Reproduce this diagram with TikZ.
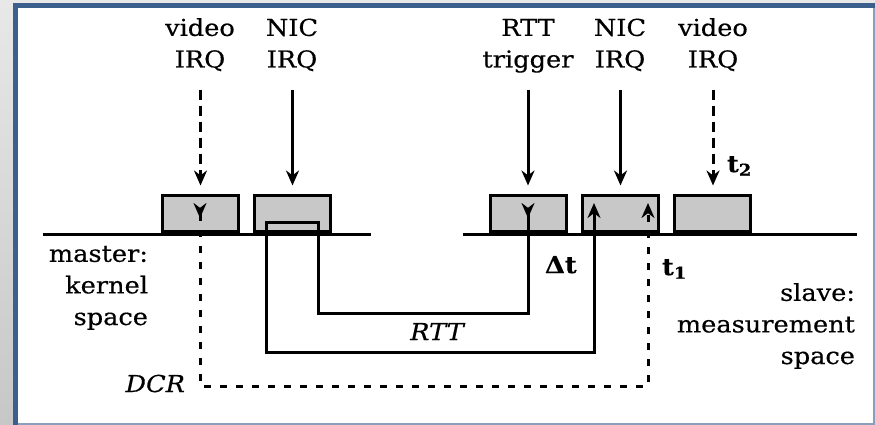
\documentclass[tikz,border=0pt]{standalone}
\usepackage{fontspec}
\setmainfont{DejaVu Serif}[FakeStretch=1.1, FakeBold=0.4]
\usetikzlibrary{arrows.meta}
\definecolor{frameblue}{HTML}{3C5F8E}
\definecolor{boxgray}{HTML}{C8C8C8}
\begin{document}
\begin{tikzpicture}[x=1pt,y=-1pt,
  every node/.style={inner sep=0pt, outer sep=0pt},
  lbl/.style={font=\fontsize{23.3}{31.6}\selectfont, align=center, anchor=base},
  side/.style={font=\fontsize{23.3}{31.6}\selectfont, align=right, anchor=base east},
  emph/.style={font=\fontsize{23.3}{28}\selectfont\itshape},
  strong/.style={font=\fontsize{23.3}{28}\selectfont\bfseries, anchor=base west},
  evbox/.style={draw, fill=boxgray, line width=3pt, minimum width=76pt, minimum height=36pt},
  ln/.style={line width=3pt},
  dshtop/.style={line width=3pt, dash pattern=on 10pt off 6pt},
  dshlow/.style={line width=3pt, dash pattern=on 7pt off 9pt},
  >={Stealth[length=15pt,width=13pt]}
]
\useasboundingbox (0,0) rectangle (875,425);
% window frame
\shade[top color=black!9, bottom color=black!22] (0,0) rectangle (14,425);
\fill[black!9] (0,0) rectangle (875,3);
\fill[frameblue] (13,3) rectangle (875,8);
\fill[frameblue] (13,3) rectangle (18,425);
\fill[frameblue!60!white] (873,8) rectangle (875,425);
\fill[frameblue!60!white] (18,423) rectangle (875,425);

% event boxes
\node[evbox] (b1) at (200.5,213.5) {};
\node[evbox] (b2) at (292.5,213.5) {};
\node[evbox] (b3) at (528,213.5) {};
\node[evbox] (b4) at (620.5,213.5) {};
\node[evbox] (b5) at (712,213.5) {};

% time lines
\coordinate (mL) at (43,234);
\coordinate (mR) at (371,234);
\coordinate (sL) at (463,234);
\coordinate (sR) at (857,234);
\draw[ln] (mL) -- (mR);
\draw[ln] (sL) -- (sR);

% top labels
\node[lbl] (v1) at (200,67.5) {video\\IRQ};
\node[lbl] (n1) at (292,67.5) {NIC\\IRQ};
\node[lbl] (rt) at (528,67.5) {RTT\\trigger};
\node[lbl] (n2) at (620,67.5) {NIC\\IRQ};
\node[lbl] (v2) at (713,67.5) {video\\IRQ};

\coordinate (atop) at (0,90);
\draw[dshtop,->,shorten >=10pt] (b1.north |- atop) -- (b1.north);
\draw[ln,->,shorten >=10pt] (b2.north |- atop) -- (b2.north);
\draw[ln,->,shorten >=10pt] (b3.north |- atop) -- (b3.north);
\draw[ln,->,shorten >=10pt] (b4.north |- atop) -- (b4.north);
\draw[dshtop,->,shorten >=10pt] (713,90) coordinate (v2a) -- (v2a |- b5.north);

% RTT loop
\coordinate (r0) at (528,203);
\coordinate (r1) at (528,313);
\coordinate (r2) at (318,313);
\coordinate (r3) at (318,222);
\coordinate (r4) at (266,222);
\coordinate (r5) at (266,352);
\coordinate (r6) at (594,352);
\coordinate (r7) at (594,203);
\draw[ln,>->,line join=miter] (r0) -- (r1) -- (r2) -- (r3) -- (r4) -- (r5) -- (r6) -- (r7);

% DCR loop
\coordinate (d0) at (200,203);
\coordinate (d1) at (200,386);
\coordinate (d2) at (648,386);
\coordinate (d3) at (648,203);
\draw[dshlow,>->] (d0) -- (d1) -- (d2) -- (d3);

% labels
\node[side] (ml) at (148,325) {master:\\kernel\\space};
\node[side] (sl) at (855,364) {slave:\\measurement\\space};
\node[emph, anchor=base] (rtt) at (437,340) {RTT};
\node[emph, anchor=base east] (dcr) at (185,392) {DCR};
\node[strong] (dt) at (545,273) {Δt};
\node[strong] (t1) at (662,275) {t\textsubscript{1}};
\node[strong] (t2) at (727,172) {t\textsubscript{2}};
\end{tikzpicture}
\end{document}
